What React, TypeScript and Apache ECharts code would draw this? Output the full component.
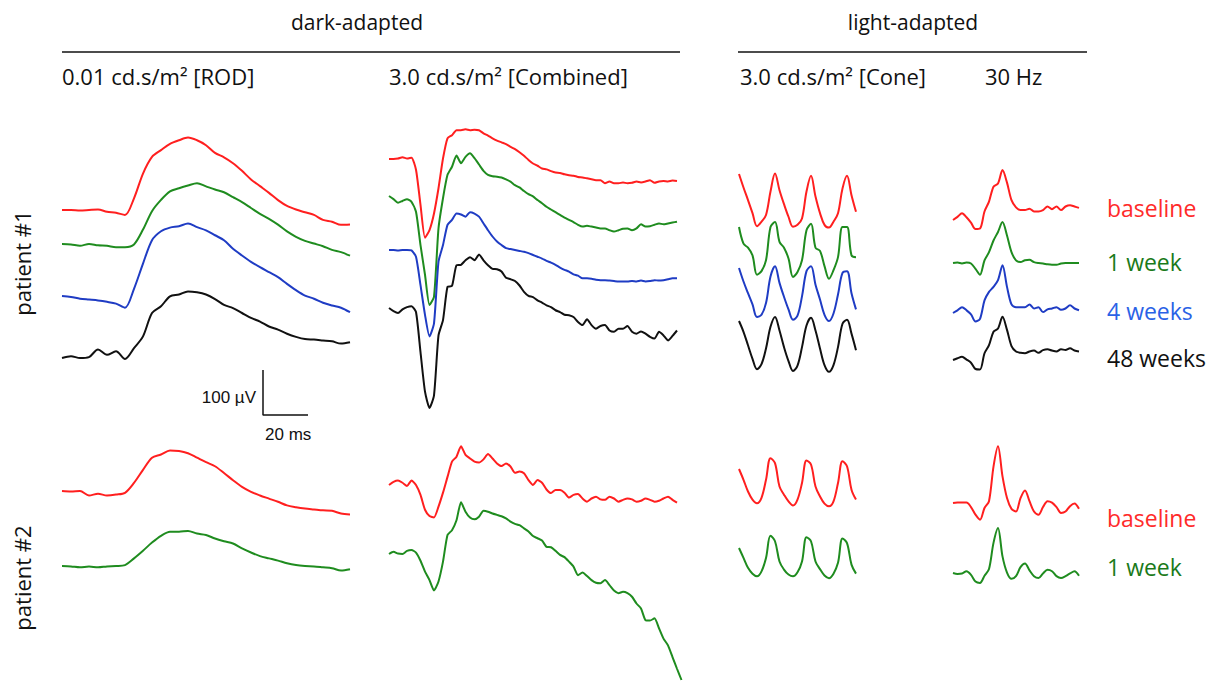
import React, { useEffect, useRef } from 'react';
import * as echarts from 'echarts';

// ---------- categories ----------
const sessions = ['baseline', '1 week', '4 weeks', '48 weeks'];
const protocols = ['0.01 cd.s/m² [ROD]', '3.0 cd.s/m² [Combined]', '3.0 cd.s/m² [Cone]', '30 Hz'];
const groups = ['dark-adapted', 'light-adapted'];
const patients = ['patient #1', 'patient #2'];
// sampling interval (ms) of every trace, per protocol
const sampleMs = [4, 2, 2, 2];
// scale bar
const scaleUv = 100;
const scaleMs = 20;

// ---------- traces (µV, relative to each trace's first sample) ----------
// patient 1, rod
const rodP1Baseline = [0, 0, -1, 0, 1, -4, -6, -11, 26, 81, 118, 133, 147, 155, 161, 155, 144, 127, 117, 104, 87, 68, 53, 38, 22, 9, 1, -5, -11, -22, -26, -33, -32];
const rodP1Week1 = [0, -1, -4, 0, -3, -4, -7, -7, -1, 32, 73, 98, 117, 124, 130, 135, 128, 121, 115, 104, 93, 80, 67, 56, 43, 28, 16, 7, 1, -5, -13, -18, -26];
const rodP1Week4 = [0, -2, -6, -8, -10, -13, -17, -26, 16, 72, 124, 144, 152, 155, 161, 153, 146, 135, 124, 105, 90, 76, 64, 53, 42, 27, 13, 1, -6, -15, -21, -26, -36];
const rodP1Week48 = [0, 4, 0, 2, 19, 7, 15, -2, 22, 48, 100, 115, 137, 141, 148, 146, 141, 131, 118, 111, 100, 89, 81, 70, 63, 54, 47, 42, 41, 39, 37, 32, 35];
// patient 1, combined
const combP1Baseline = [0, 0, 1, 4, 1, 3, -24, -102, -175, -158, -121, -65, 1, 46, 53, 64, 64, 66, 64, 65, 64, 57, 52, 46, 41, 37, 33, 27, 22, 15, 7, -2, -10, -15, -21, -23, -27, -30, -31, -34, -36, -37, -40, -41, -43, -45, -47, -47, -54, -50, -54, -54, -52, -54, -53, -50, -52, -50, -47, -53, -50, -49, -50, -48, -49];
const combP1Week1 = [0, -7, -15, -11, -7, -13, -35, -109, -175, -242, -224, -72, -5, 47, 65, 90, 73, 87, 95, 84, 70, 56, 47, 44, 43, 41, 37, 32, 24, 19, 11, 4, -1, -9, -16, -24, -30, -36, -42, -48, -53, -58, -64, -68, -66, -68, -70, -72, -72, -76, -79, -76, -73, -72, -76, -72, -63, -68, -67, -64, -61, -63, -61, -59, -57];
const combP1Week4 = [0, 0, -1, 0, 0, -1, -15, -78, -144, -192, -163, -26, 11, 56, 67, 81, 79, 74, 84, 81, 74, 59, 44, 30, 19, 11, 4, 2, 0, -2, -4, -7, -11, -15, -19, -24, -28, -33, -39, -44, -48, -54, -57, -63, -63, -64, -66, -67, -67, -68, -69, -70, -70, -70, -69, -70, -68, -70, -69, -67, -68, -67, -65, -63, -63];
const combP1Week48 = [0, -7, -11, -3, 2, 4, -9, -98, -186, -222, -194, -61, -27, 47, 49, 95, 96, 106, 113, 106, 119, 106, 95, 87, 86, 81, 67, 64, 60, 50, 36, 27, 24, 17, 12, 6, 2, -5, -9, -15, -16, -20, -31, -38, -25, -38, -46, -40, -38, -50, -53, -46, -46, -40, -53, -57, -52, -57, -64, -68, -53, -61, -72, -62, -50];
// patient 1, cone
const coneP1Baseline = [0, -30, -58, -87, -116, -106, -91, -39, 1, -36, -67, -95, -117, -113, -99, -39, -4, -50, -87, -113, -119, -106, -87, -32, -4, -47, -84];
const coneP1Week1 = [0, -37, -46, -63, -106, -98, -74, 0, 11, -33, -46, -70, -111, -100, -74, -7, 7, -46, -53, -87, -115, -96, -67, 0, 0, -63, -67];
const coneP1Week4 = [0, -30, -56, -81, -109, -104, -78, -19, 4, -33, -64, -92, -115, -106, -63, -7, 4, -37, -70, -104, -118, -101, -59, -11, -7, -56, -92];
const coneP1Week48 = [0, -24, -54, -84, -107, -96, -61, -13, 9, -21, -58, -89, -111, -99, -58, -10, 7, -21, -61, -98, -113, -98, -58, -6, 3, -28, -65];
// patient 1, 30 Hz flicker
const flickerP1Baseline = [0, 7, 15, 6, -6, -20, -19, 19, 41, 74, 81, 111, 83, 44, 28, 22, 22, 25, 19, 19, 22, 30, 24, 30, 22, 30, 33, 30, 27];
const flickerP1Week1 = [0, 1, -1, 1, -1, -13, -26, 6, 24, 50, 69, 91, 61, 24, 6, 2, 6, 7, 2, 0, -1, -3, -4, -4, -1, 0, 0, 0, 0];
const flickerP1Week4 = [0, 6, 13, 6, -3, -19, -13, 28, 47, 58, 73, 106, 58, 19, 13, 13, 13, 19, 10, 13, 2, 8, 10, 13, 7, 10, 17, 10, 6];
const flickerP1Week48 = [0, 4, 7, 1, -6, -20, -21, 15, 33, 63, 70, 96, 67, 31, 19, 16, 15, 19, 21, 16, 22, 24, 21, 19, 24, 22, 26, 21, 19];
// patient 2
const rodP2Baseline = [0, -1, 0, -10, -6, -10, -8, -4, 18, 47, 74, 81, 90, 89, 84, 74, 64, 55, 40, 24, 9, -2, -10, -17, -24, -32, -36, -39, -41, -43, -44, -50, -52];
const rodP2Week1 = [0, -1, -3, -1, -3, -1, 0, 2, 17, 34, 52, 67, 76, 76, 78, 72, 69, 61, 55, 50, 39, 30, 22, 17, 12, 6, 2, 0, -1, -3, -5, -10, -7];
const combP2Baseline = [0, 7, 10, 5, -2, 10, 0, -22, -55, -69, -72, -48, -17, 18, 52, 63, 86, 67, 59, 52, 50, 57, 69, 59, 48, 42, 48, 41, 27, 30, 26, 11, 0, 11, 5, -10, -18, -11, -11, -17, -28, -22, -20, -30, -37, -30, -26, -32, -33, -26, -30, -37, -33, -30, -32, -37, -35, -30, -33, -37, -35, -30, -26, -33, -39];
const combP2Week1 = [0, 5, 1, 0, 7, 9, 3, -15, -39, -58, -81, -61, -17, 42, 53, 75, 115, 94, 81, 77, 83, 96, 94, 90, 87, 84, 79, 72, 67, 64, 57, 50, 40, 35, 30, 16, 15, 7, -2, -7, -17, -28, -47, -41, -49, -58, -64, -65, -58, -69, -81, -87, -84, -87, -95, -110, -121, -147, -148, -143, -165, -188, -203, -229, -255, -280];
const coneP2Baseline = [0, -24, -50, -68, -76, -64, -24, 24, 13, -39, -57, -72, -81, -68, -31, 19, 10, -39, -61, -77, -83, -72, -31, 17, 6, -46, -68];
const coneP2Week1 = [0, -22, -44, -57, -63, -52, -22, 27, 15, -30, -48, -59, -63, -54, -30, 24, 15, -30, -47, -61, -67, -57, -33, 21, 11, -37, -57];
const flickerP2Baseline = [0, 1, 1, 1, -9, -26, -37, -11, 4, 81, 126, 59, 11, -13, -19, 11, 28, 4, -19, -26, -9, 4, 1, -9, -22, -19, -7, -1, -13];
const flickerP2Week1 = [0, -2, -1, 4, -4, -19, -22, -6, 9, 67, 100, 37, 1, -13, -7, 13, 21, 6, -7, -11, -1, 7, 4, -7, -11, -7, -1, 4, -6];

// ---------- layout (pixels) ----------
const PX_PER_MS = 2.25;
const PX_PER_UV = 0.45;
const COL_LEFT = [62, 389, 739, 953];
const COL_SPAN_MS = [128, 130, 52, 56];
const COL_SMOOTH = [0.3, 0.2, 0.35, 0.3];
const traceColors = ['#ff1f1f', '#1f8c1f', '#1f3cc4', '#111111'];
const legendColors = ['#ff2a2a', '#1a7a1a', '#2a62e6', '#111111'];
const FONT = '"Open Sans", "Noto Sans", sans-serif';

const traces = [
  { col: 0, data: rodP1Baseline, s: 0, y: 210 },
  { col: 0, data: rodP1Week1, s: 1, y: 244 },
  { col: 0, data: rodP1Week4, s: 2, y: 296 },
  { col: 0, data: rodP1Week48, s: 3, y: 358 },
  { col: 1, data: combP1Baseline, s: 0, y: 159 },
  { col: 1, data: combP1Week1, s: 1, y: 196 },
  { col: 1, data: combP1Week4, s: 2, y: 250 },
  { col: 1, data: combP1Week48, s: 3, y: 308 },
  { col: 2, data: coneP1Baseline, s: 0, y: 174 },
  { col: 2, data: coneP1Week1, s: 1, y: 227 },
  { col: 2, data: coneP1Week4, s: 2, y: 268 },
  { col: 2, data: coneP1Week48, s: 3, y: 321 },
  { col: 3, data: flickerP1Baseline, s: 0, y: 220 },
  { col: 3, data: flickerP1Week1, s: 1, y: 263 },
  { col: 3, data: flickerP1Week4, s: 2, y: 313 },
  { col: 3, data: flickerP1Week48, s: 3, y: 360 },
  { col: 0, data: rodP2Baseline, s: 0, y: 491 },
  { col: 0, data: rodP2Week1, s: 1, y: 566 },
  { col: 1, data: combP2Baseline, s: 0, y: 485 },
  { col: 1, data: combP2Week1, s: 1, y: 554 },
  { col: 2, data: coneP2Baseline, s: 0, y: 469 },
  { col: 2, data: coneP2Week1, s: 1, y: 548 },
  { col: 3, data: flickerP2Baseline, s: 0, y: 503 },
  { col: 3, data: flickerP2Week1, s: 1, y: 573 },
];

const legendP1Y = [208, 262, 311, 358];
const legendP2Y = [518, 567];
const LEGEND_X = 1107;

function buildOption() {
  const grid: any[] = [];
  const xAxis: any[] = [];
  const yAxis: any[] = [];
  const series: any[] = [];

  traces.forEach((t, i) => {
    // y extent of each trace's own axis = its data range (plus 1 µV)
    const yMax = Math.max(...t.data) + 1;
    const yMin = Math.min(...t.data) - 1;
    grid.push({
      left: COL_LEFT[t.col],
      top: t.y - yMax * PX_PER_UV,
      width: COL_SPAN_MS[t.col] * PX_PER_MS,
      height: (yMax - yMin) * PX_PER_UV,
      containLabel: false,
    });
    xAxis.push({ type: 'value', gridIndex: i, min: 0, max: COL_SPAN_MS[t.col], show: false });
    yAxis.push({ type: 'value', gridIndex: i, min: yMin, max: yMax, show: false });
    series.push({
      type: 'line',
      name: sessions[t.s],
      xAxisIndex: i,
      yAxisIndex: i,
      data: t.data.map((v, k) => [k * sampleMs[t.col], v]),
      symbol: 'none',
      smooth: COL_SMOOTH[t.col],
      clip: false,
      lineStyle: { color: traceColors[t.s], width: 2 },
      silent: true,
    });
  });

  // scale bar drawn through its own axes
  const sb = traces.length;
  grid.push({ left: 263, top: 370, width: scaleMs * PX_PER_MS, height: scaleUv * PX_PER_UV });
  xAxis.push({ type: 'value', gridIndex: sb, min: 0, max: scaleMs, show: false });
  yAxis.push({ type: 'value', gridIndex: sb, min: 0, max: scaleUv, show: false });
  series.push({
    type: 'line',
    xAxisIndex: sb,
    yAxisIndex: sb,
    data: [[0, scaleUv], [0, 0], [scaleMs, 0]],
    symbol: 'none',
    clip: false,
    lineStyle: { color: '#111', width: 1.5 },
    silent: true,
  });

  const txt = (text: string, x: number, y: number, size: number, fill: string, align = 'left', extra: any = {}, family = FONT) => ({
    type: 'text',
    x,
    y,
    ...extra,
    style: {
      text,
      fill,
      font: `${size}px ${family}`,
      align,
      textAlign: align,
      verticalAlign: 'middle',
      textVerticalAlign: 'middle',
    },
  });

  const graphic: any[] = [
    txt(groups[0], 357, 22, 21, '#111', 'center'),
    txt(groups[1], 913, 22, 21, '#111', 'center'),
    { type: 'line', shape: { x1: 62, y1: 52, x2: 680, y2: 52 }, style: { stroke: '#111', lineWidth: 1.5 } },
    { type: 'line', shape: { x1: 738, y1: 52, x2: 1087, y2: 52 }, style: { stroke: '#111', lineWidth: 1.5 } },
    txt(protocols[0], 62, 76, 22, '#111'),
    txt(protocols[1], 389, 76, 22, '#111'),
    txt(protocols[2], 740, 76, 22, '#111'),
    txt(protocols[3], 985, 76, 22, '#111'),
    txt(patients[0], 22, 263, 22, '#111', 'center', { rotation: Math.PI / 2 }),
    txt(patients[1], 22, 578, 22, '#111', 'center', { rotation: Math.PI / 2 }),
    txt(`${scaleUv} µV`, 256, 397, 17, '#111', 'right', {}, '"Liberation Sans", Arial, sans-serif'),
    txt(`${scaleMs} ms`, 265, 434, 17, '#111', 'left', {}, '"Liberation Sans", Arial, sans-serif'),
  ];
  legendP1Y.forEach((y, i) => graphic.push(txt(sessions[i], LEGEND_X, y, 23, legendColors[i])));
  legendP2Y.forEach((y, i) => graphic.push(txt(sessions[i], LEGEND_X, y, 23, legendColors[i])));

  return {
    animation: false,
    backgroundColor: '#ffffff',
    grid,
    xAxis,
    yAxis,
    series,
    graphic,
  };
}

export default function App() {
  const ref = useRef<HTMLDivElement>(null);
  useEffect(() => {
    if (!ref.current) return;
    const chart = echarts.init(ref.current, undefined, { renderer: 'svg' });
    chart.setOption(buildOption());
    return () => chart.dispose();
  }, []);
  return (
    <div
      ref={ref}
      style={{ position: 'absolute', left: 0, top: 0, width: 1218, height: 681, background: '#fff' }}
    />
  );
}
